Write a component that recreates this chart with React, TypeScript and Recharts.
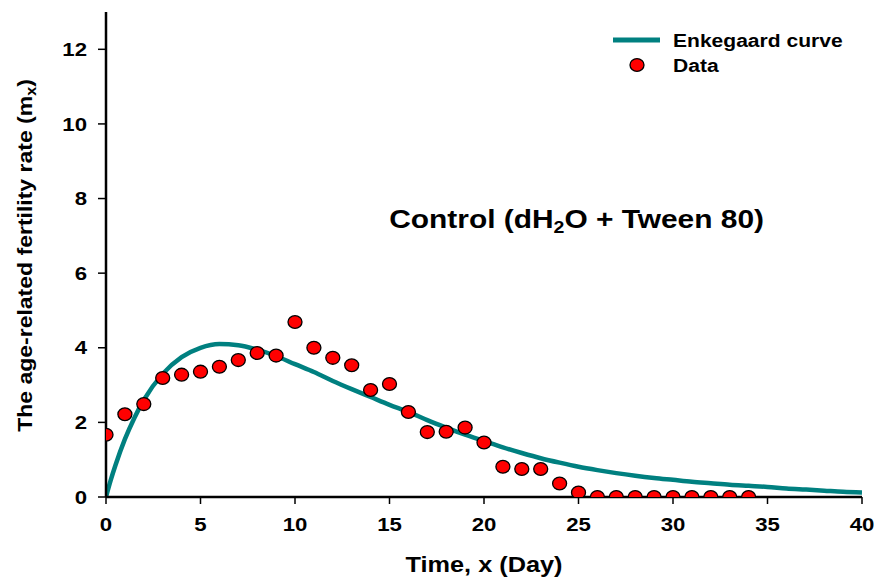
import React from 'react';
import { ComposedChart, Line, Scatter, XAxis, YAxis, Label, ReferenceDot } from 'recharts';

// Enkegaard fitted curve
const curveX = [0, 0.25, 0.5, 1, 1.5, 2, 3, 4, 5, 6, 7, 8, 9, 10, 11, 12, 13, 14, 15, 16, 17, 18, 19, 20, 21, 22, 23, 24, 25, 26, 27, 28, 29, 30, 31, 32, 33, 34, 35, 36, 37, 38, 39, 40];
const curveY = [0, 0.45, 0.85, 1.55, 2.12, 2.6, 3.3, 3.75, 4.0, 4.1, 4.07, 3.95, 3.78, 3.56, 3.35, 3.11, 2.89, 2.68, 2.47, 2.28, 2.06, 1.86, 1.67, 1.5, 1.33, 1.18, 1.04, 0.92, 0.81, 0.72, 0.64, 0.57, 0.51, 0.46, 0.41, 0.37, 0.33, 0.3, 0.27, 0.23, 0.2, 0.17, 0.14, 0.12];

// Observed data
const dayX = [0, 1, 2, 3, 4, 5, 6, 7, 8, 9, 10, 11, 12, 13, 14, 15, 16, 17, 18, 19, 20, 21, 22, 23, 24, 25, 26, 27, 28, 29, 30, 31, 32, 33, 34];
const dataY = [1.67, 2.22, 2.49, 3.19, 3.28, 3.36, 3.49, 3.67, 3.86, 3.79, 4.69, 4.0, 3.73, 3.53, 2.87, 3.03, 2.28, 1.74, 1.75, 1.86, 1.46, 0.81, 0.75, 0.75, 0.36, 0.12, 0, 0, 0, 0, 0, 0, 0, 0, 0];

const xTicks = [0, 5, 10, 15, 20, 25, 30, 35, 40];
const yTicks = [0, 2, 4, 6, 8, 10, 12];

const curveData = curveX.map((x, i) => ({ x, y: curveY[i] }));
const pointData = dayX.map((x, i) => ({ x, y: dataY[i] }));

const FONT = '"Liberation Sans", Arial, sans-serif';
const TEAL = '#008080';
const SX = 1.15;

const XTick = (props: any) => (
  <g transform={`translate(${props.x},${props.y}) scale(1.2,1)`}>
    <text x={0} y={0} dy="0.71em" textAnchor="middle" fontFamily={FONT} fontWeight={700} fontSize={18.5} fill="#000">
      {props.payload.value}
    </text>
  </g>
);

const YTick = (props: any) => (
  <g transform={`translate(${props.x},${props.y}) scale(1.2,1)`}>
    <text x={0} y={0} dy="0.355em" textAnchor="end" fontFamily={FONT} fontWeight={700} fontSize={18.5} fill="#000">
      {props.payload.value}
    </text>
  </g>
);

const Dot = (props: any) => (
  <ellipse cx={props.cx} cy={props.cy} rx={7} ry={6.4} fill="#ff0000" stroke="#000" strokeWidth={1.3} />
);

const LegendBox = () => (
  <svg width={260} height={55} style={{ display: 'block' }}>
    <line x1={8} x2={55} y1={15} y2={15} stroke={TEAL} strokeWidth={5} />
    <g transform={`translate(68,16) scale(${SX},1)`}>
      <text x={0} y={0} dominantBaseline="central" fontFamily={FONT} fontWeight={700} fontSize={18.3} fill="#000">Enkegaard curve</text>
    </g>
    <ellipse cx={32} cy={40} rx={7} ry={6.4} fill="#ff0000" stroke="#000" strokeWidth={1.3} />
    <g transform={`translate(68,41) scale(${SX},1)`}>
      <text x={0} y={0} dominantBaseline="central" fontFamily={FONT} fontWeight={700} fontSize={18.3} fill="#000">Data</text>
    </g>
  </svg>
);

export default function App() {
  return (
    <div style={{ position: 'absolute', left: 0, top: 0, width: 874, height: 580, background: '#fff' }}>
      <ComposedChart width={874} height={580} margin={{ top: 12, right: 12, left: 46, bottom: 53 }}>
        <XAxis
          type="number"
          dataKey="x"
          domain={[0, 40]}
          ticks={xTicks}
          allowDataOverflow
          tickSize={7}
          tickMargin={14}
          height={30}
          axisLine={{ stroke: '#000', strokeWidth: 2.5 }}
          tickLine={{ stroke: '#000', strokeWidth: 1.5 }}
          tick={XTick}
        >
          <Label
            content={(p: any) => {
              const vb = p.viewBox;
              const cx = vb.x + vb.width / 2;
              const cy = vb.y + 68;
              return (
                <g transform={`translate(${cx},${cy}) scale(${SX},1)`}>
                  <text x={0} y={0} textAnchor="middle" dominantBaseline="central" fontFamily={FONT} fontWeight={700} fontSize={22} fill="#000">
                    Time, x (Day)
                  </text>
                </g>
              );
            }}
          />
        </XAxis>
        <YAxis
          type="number"
          domain={[0, 13]}
          ticks={yTicks}
          allowDataOverflow
          width={60}
          tickSize={8}
          tickMargin={11}
          axisLine={{ stroke: '#000', strokeWidth: 2.5 }}
          tickLine={{ stroke: '#000', strokeWidth: 1.5 }}
          tick={YTick}
        >
          <Label
            content={(p: any) => {
              const vb = p.viewBox;
              const cx = vb.x - 21;
              const cy = vb.y + vb.height / 2 + 1;
              return (
                <g transform={`translate(${cx},${cy}) rotate(-90) scale(${SX},1)`}>
                  <text x={0} y={0} textAnchor="middle" dominantBaseline="central" fontFamily={FONT} fontWeight={700} fontSize={20} fill="#000">
                    The age-related fertility rate (m<tspan dy={5} fontSize={14}>x</tspan><tspan dy={-5}>)</tspan>
                  </text>
                </g>
              );
            }}
          />
        </YAxis>
        <Line data={curveData} dataKey="y" type="monotone" stroke={TEAL} strokeWidth={4.5} dot={false} isAnimationActive={false} />
        <Scatter data={pointData} dataKey="y" shape={Dot} isAnimationActive={false} />
        <ReferenceDot x={24.9} y={7.45} r={0} stroke="none" fill="none">
          <Label
            content={(p: any) => {
              const vb = p.viewBox;
              const cx = vb.x + (vb.width || 0) / 2;
              const cy = vb.y + (vb.height || 0) / 2;
              return (
                <g transform={`translate(${cx},${cy}) scale(${SX},1)`}>
                  <text x={0} y={0} textAnchor="middle" dominantBaseline="central" fontFamily={FONT} fontWeight={700} fontSize={26} fill="#000">
                    Control (dH<tspan dy={7} fontSize={17}>2</tspan><tspan dy={-7}>O + Tween 80)</tspan>
                  </text>
                </g>
              );
            }}
          />
        </ReferenceDot>
      </ComposedChart>
      <div style={{ position: 'absolute', left: 605, top: 25 }}>
        <LegendBox />
      </div>
    </div>
  );
}
